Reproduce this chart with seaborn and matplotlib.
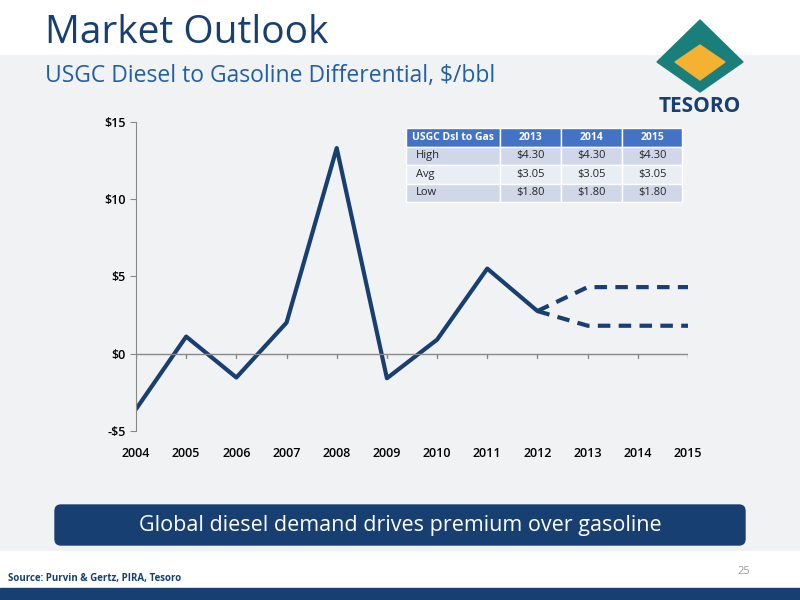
import numpy as np
import pandas as pd
import seaborn as sns
import matplotlib.pyplot as plt
from matplotlib.patches import FancyBboxPatch, Polygon, Rectangle

years = [2004, 2005, 2006, 2007, 2008, 2009, 2010, 2011, 2012]
diff = [-3.6, 1.1, -1.55, 2.0, 13.3, -1.6, 0.9, 5.5, 2.75]
fc_years = [2012, 2013, 2014, 2015]
fc_high = [2.75, 4.3, 4.3, 4.3]
fc_low = [2.75, 1.8, 1.8, 1.8]
table_cols = ["USGC Dsl to Gas", "2013", "2014", "2015"]
table_rows = [["High", "$4.30", "$4.30", "$4.30"],
              ["Avg", "$3.05", "$3.05", "$3.05"],
              ["Low", "$1.80", "$1.80", "$1.80"]]

navy = "#173f72"
sns.set_style("white")
plt.rcParams['font.family'] = ['Open Sans', 'DejaVu Sans']

fig = plt.figure(figsize=(8, 6), dpi=100)
fig.patch.set_facecolor("white")
bg = fig.add_axes([0, 0, 1, 1])
bg.set_xlim(0, 800); bg.set_ylim(600, 0); bg.axis("off")
bg.add_patch(Rectangle((0, 55), 800, 495, color="#f1f2f4", zorder=0))
bg.add_patch(Rectangle((0, 588), 800, 12, color=navy))
bg.text(45, 33, "Market Outlook", fontsize=28, color=navy, va="center")
bg.text(45, 76, "USGC Diesel to Gasoline Differential, $/bbl", fontsize=16.5, color="#1f5fa8", va="center")
# logo
bg.add_patch(Polygon([[700, 20], [743, 62], [700, 92], [657, 62]], color="#1a7f7a"))
bg.add_patch(Polygon([[700, 45], [725, 62], [700, 80], [675, 62]], color="#f4b132"))
bg.text(700, 106, "TESORO", fontsize=15, fontweight="bold", color=navy, ha="center", va="center")
# banner
bg.add_patch(FancyBboxPatch((55, 505), 690, 40, boxstyle="round,pad=0,rounding_size=6",
                            color=navy))
bg.text(400, 525, "Global diesel demand drives premium over gasoline", fontsize=15.5,
        color="white", ha="center", va="center")
bg.text(8, 578, "Source: Purvin & Gertz, PIRA, Tesoro", fontsize=7, fontweight="bold",
        color=navy, va="center")
bg.text(750, 572, "25", fontsize=8, color="#999999", ha="right", va="center")

ax = fig.add_axes([0.17, 0.282, 0.69, 0.515])
ax.set_facecolor("none")
sns.lineplot(x=years, y=diff, ax=ax, color=navy, lw=3)
sns.lineplot(x=fc_years, y=fc_high, ax=ax, color=navy, lw=3, linestyle=(0, (3, 2)))
sns.lineplot(x=fc_years, y=fc_low, ax=ax, color=navy, lw=3, linestyle=(0, (3, 2)))
ax.axhline(0, color="#888888", lw=1)
for yr in range(2004, 2016):
    ax.plot([yr, yr], [0, -0.3], color="#888888", lw=1)
ax.set_xlim(2004, 2015)
ax.set_ylim(-5, 15)
ax.set_yticks([-5, 0, 5, 10, 15])
ax.set_yticklabels(["-$5", "$0", "$5", "$10", "$15"])
ax.set_xticks(range(2004, 2016))
for s in ["top", "right", "bottom"]:
    ax.spines[s].set_visible(False)
ax.spines["left"].set_color("#888888")
ax.tick_params(labelsize=9, length=4, colors="black")
ax.tick_params(axis="x", length=0, pad=12)
ax.tick_params(axis="y", left=True, color="#888888")
for lbl in ax.get_xticklabels() + ax.get_yticklabels():
    lbl.set_fontweight("semibold")

tab = ax.table(cellText=table_rows, colLabels=table_cols, cellLoc="center",
               bbox=[0.49, 0.74, 0.5, 0.24], colWidths=[0.34, 0.22, 0.22, 0.22])
tab.auto_set_font_size(False)
tab.set_fontsize(8)
for (r, c), cell in tab.get_celld().items():
    cell.set_edgecolor("white")
    if r == 0:
        cell.set_facecolor("#4472c4")
        cell.get_text().set_color("white")
        cell.get_text().set_fontweight("bold")
        cell.get_text().set_fontsize(7.5)
    else:
        cell.set_facecolor("#cfd7e8" if r % 2 == 1 else "#e9edf4")
    if c == 0 and r > 0:
        cell._loc = "left"
        cell.get_text().set_ha("left")

fig.savefig("out.png", dpi=100)
